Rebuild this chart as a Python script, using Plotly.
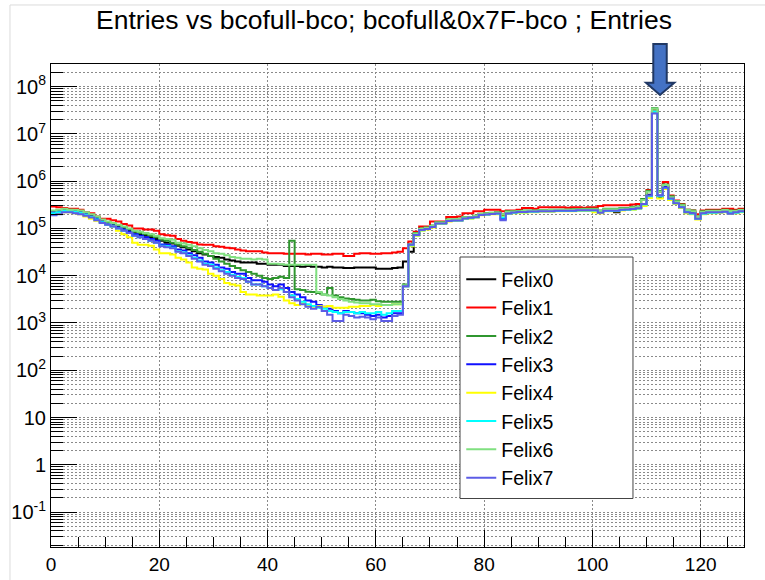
import plotly.graph_objects as go

# ---------------- data ----------------
bin_edges = list(range(129))  # bcofull&0x7F-bco bins, 0..128, width 1

series_names = ["Felix0", "Felix1", "Felix2", "Felix3", "Felix4", "Felix5", "Felix6", "Felix7"]
series_colors = ["#000000", "#ff0000", "#2f962f", "#1010ff", "#ffff00", "#00ffff", "#80e080", "#5c5ce6"]

felix0 = [2.0e5, 2.1e5, 2.3e5, 2.3e5, 2.2e5, 2.1e5, 1.9e5, 1.8e5, 1.6e5, 1.4e5,
          1.3e5, 1.2e5, 1.1e5, 1.0e5, 9.0e4, 8.2e4, 7.6e4, 7.0e4, 6.5e4, 6.0e4,
          5.5e4, 5.0e4, 4.8e4, 4.3e4, 4.0e4, 3.6e4, 3.3e4, 3.0e4, 2.8e4, 2.6e4,
          2.5e4, 2.4e4, 2.2e4, 2.1e4, 2.0e4, 1.9e4, 1.9e4, 1.9e4, 1.8e4, 1.8e4,
          1.7e4, 1.7e4, 1.7e4, 1.6e4, 1.6e4, 1.6e4, 1.55e4, 1.6e4, 1.55e4, 1.55e4,
          1.5e4, 1.55e4, 1.5e4, 1.5e4, 1.45e4, 1.45e4, 1.5e4, 1.5e4, 1.5e4, 1.5e4,
          1.4e4, 1.4e4, 1.4e4, 1.45e4, 1.5e4, 2.0e4, 3.2e4, 7.5e4, 9.5e4, 1.0e5,
          1.1e5, 1.3e5, 1.3e5, 1.5e5, 1.5e5, 1.55e5, 1.7e5, 1.7e5, 1.8e5, 2.0e5,
          2.05e5, 2.1e5, 2.1e5, 1.9e5, 2.2e5, 2.25e5, 2.3e5, 2.3e5, 2.3e5, 2.35e5,
          2.4e5, 2.4e5, 2.4e5, 2.4e5, 2.45e5, 2.45e5, 2.45e5, 2.5e5, 2.5e5, 2.5e5,
          2.5e5, 2.3e5, 2.4e5, 2.4e5, 2.2e5, 2.5e5, 2.6e5, 2.6e5, 2.7e5, 3.3e5,
          5.2e5, 3.0e7, 4.6e5, 8.0e5, 4.2e5, 3.5e5, 2.9e5, 2.3e5, 2.2e5, 1.7e5,
          2.2e5, 2.25e5, 2.3e5, 2.3e5, 2.3e5, 2.2e5, 2.3e5, 2.35e5]

felix1 = [2.9e5, 2.8e5, 2.7e5, 2.6e5, 2.6e5, 2.5e5, 2.2e5, 2.1e5, 1.8e5, 1.6e5,
          1.6e5, 1.5e5, 1.4e5, 1.25e5, 1.15e5, 1.0e5, 1.0e5, 9.5e4, 9.5e4, 9.0e4,
          7.5e4, 7.2e4, 7.0e4, 6.0e4, 5.5e4, 5.2e4, 5.0e4, 4.6e4, 4.5e4, 4.5e4,
          4.2e4, 4.1e4, 3.9e4, 3.8e4, 3.6e4, 3.4e4, 3.3e4, 3.3e4, 3.3e4, 3.1e4,
          3.0e4, 3.0e4, 3.0e4, 2.9e4, 2.9e4, 2.9e4, 2.9e4, 2.8e4, 2.9e4, 2.9e4,
          2.8e4, 2.8e4, 2.9e4, 2.9e4, 2.6e4, 2.6e4, 2.9e4, 3.0e4, 3.0e4, 2.9e4,
          2.9e4, 3.0e4, 3.0e4, 3.1e4, 3.2e4, 3.8e4, 5.3e4, 8.5e4, 1.1e5, 1.1e5,
          1.4e5, 1.4e5, 1.4e5, 1.75e5, 1.75e5, 1.8e5, 2.1e5, 2.1e5, 2.3e5, 2.3e5,
          2.5e5, 2.5e5, 2.5e5, 2.3e5, 2.4e5, 2.4e5, 2.5e5, 2.7e5, 2.7e5, 2.6e5,
          2.8e5, 2.8e5, 2.8e5, 2.8e5, 2.8e5, 2.75e5, 2.8e5, 2.8e5, 2.75e5, 2.8e5,
          2.8e5, 3.0e5, 3.1e5, 3.1e5, 3.1e5, 3.1e5, 3.1e5, 3.2e5, 3.3e5, 4.0e5,
          6.5e5, 3.2e7, 6.0e5, 9.6e5, 5.0e5, 3.9e5, 3.3e5, 2.5e5, 2.4e5, 2.0e5,
          2.4e5, 2.5e5, 2.5e5, 2.5e5, 2.6e5, 2.6e5, 2.5e5, 2.6e5]

felix2 = [2.3e5, 2.4e5, 2.5e5, 2.5e5, 2.4e5, 2.3e5, 2.1e5, 1.9e5, 1.7e5, 1.5e5,
          1.35e5, 1.25e5, 1.15e5, 1.05e5, 9.5e4, 8.5e4, 8.0e4, 7.5e4, 7.0e4, 6.5e4,
          5.8e4, 5.5e4, 5.0e4, 4.5e4, 4.2e4, 3.9e4, 3.5e4, 3.2e4, 2.9e4, 2.6e4,
          2.3e4, 2.0e4, 1.8e4, 1.6e4, 1.45e4, 1.3e4, 1.2e4, 1.1e4, 1.0e4, 9.0e3,
          8.5e3, 9.0e3, 9.5e3, 9.0e3, 5.5e4, 5.2e3, 5.0e3, 4.6e3, 4.5e3, 4.3e3,
          4.0e3, 5.5e3, 3.8e3, 3.5e3, 3.3e3, 3.2e3, 3.1e3, 3.0e3, 3.0e3, 3.1e3,
          2.9e3, 2.8e3, 2.8e3, 2.8e3, 2.8e3, 6.5e3, 4.6e4, 8.0e4, 1.0e5, 1.05e5,
          1.15e5, 1.35e5, 1.35e5, 1.55e5, 1.55e5, 1.6e5, 1.75e5, 1.75e5, 1.85e5, 2.05e5,
          2.1e5, 2.15e5, 2.2e5, 2.0e5, 2.3e5, 2.3e5, 2.35e5, 2.4e5, 2.4e5, 2.4e5,
          2.45e5, 2.45e5, 2.5e5, 2.5e5, 2.5e5, 2.5e5, 2.55e5, 2.55e5, 2.6e5, 2.6e5,
          2.6e5, 2.4e5, 2.6e5, 2.6e5, 2.6e5, 2.7e5, 2.7e5, 2.8e5, 2.9e5, 4.2e5,
          6.3e5, 3.5e7, 6.2e5, 8.5e5, 4.8e5, 3.8e5, 3.2e5, 2.5e5, 2.4e5, 1.8e5,
          2.3e5, 2.4e5, 2.4e5, 2.4e5, 2.5e5, 2.4e5, 2.4e5, 2.5e5]

felix3 = [2.2e5, 2.3e5, 2.4e5, 2.4e5, 2.3e5, 2.2e5, 2.0e5, 1.8e5, 1.6e5, 1.4e5,
          1.25e5, 1.15e5, 1.05e5, 9.5e4, 8.5e4, 7.5e4, 7.0e4, 6.5e4, 6.0e4, 5.5e4,
          4.6e4, 4.5e4, 4.2e4, 3.6e4, 3.4e4, 3.0e4, 2.7e4, 2.4e4, 2.0e4, 1.9e4,
          1.7e4, 1.5e4, 1.4e4, 1.2e4, 1.1e4, 1.1e4, 9.0e3, 8.0e3, 8.0e3, 7.5e3,
          6.5e3, 6.0e3, 6.5e3, 5.5e3, 4.5e3, 4.0e3, 3.5e3, 3.0e3, 2.8e3, 2.4e3,
          2.2e3, 2.0e3, 1.8e3, 1.6e3, 1.8e3, 1.7e3, 1.6e3, 1.6e3, 1.5e3, 1.4e3,
          1.5e3, 1.3e3, 1.4e3, 1.6e3, 1.6e3, 6.0e3, 4.5e4, 7.5e4, 9.5e4, 1.0e5,
          1.1e5, 1.3e5, 1.3e5, 1.45e5, 1.5e5, 1.5e5, 1.65e5, 1.7e5, 1.75e5, 1.95e5,
          2.0e5, 2.05e5, 2.1e5, 1.6e5, 2.1e5, 2.2e5, 2.25e5, 2.25e5, 2.3e5, 2.3e5,
          2.35e5, 2.35e5, 2.35e5, 2.4e5, 2.4e5, 2.4e5, 2.4e5, 2.45e5, 2.45e5, 2.45e5,
          2.45e5, 2.2e5, 2.4e5, 2.4e5, 2.4e5, 2.5e5, 2.55e5, 2.6e5, 2.7e5, 3.3e5,
          5.0e5, 3.0e7, 5.0e5, 7.5e5, 4.3e5, 3.4e5, 2.8e5, 2.2e5, 2.1e5, 1.6e5,
          2.1e5, 2.2e5, 2.2e5, 2.2e5, 2.25e5, 2.1e5, 2.2e5, 2.3e5]

felix4 = [2.0e5, 2.1e5, 2.2e5, 2.2e5, 2.1e5, 2.0e5, 1.8e5, 1.6e5, 1.45e5, 1.3e5,
          1.2e5, 1.1e5, 9.0e4, 7.5e4, 6.5e4, 5.0e4, 4.5e4, 4.5e4, 4.3e4, 3.6e4,
          3.0e4, 3.0e4, 2.8e4, 2.4e4, 2.2e4, 1.9e4, 1.5e4, 1.4e4, 1.35e4, 1.1e4,
          1.0e4, 8.5e3, 7.0e3, 6.5e3, 6.2e3, 4.5e3, 4.0e3, 4.0e3, 3.8e3, 3.8e3,
          3.8e3, 4.0e3, 3.6e3, 3.0e3, 2.6e3, 2.4e3, 2.6e3, 2.3e3, 2.2e3, 2.3e3,
          2.2e3, 2.3e3, 2.1e3, 2.1e3, 2.1e3, 2.2e3, 2.2e3, 2.3e3, 2.3e3, 2.4e3,
          2.3e3, 2.4e3, 2.4e3, 2.5e3, 2.5e3, 6.0e3, 4.2e4, 7.0e4, 9.0e4, 9.5e4,
          1.05e5, 1.25e5, 1.25e5, 1.4e5, 1.45e5, 1.45e5, 1.6e5, 1.6e5, 1.7e5, 1.9e5,
          1.95e5, 2.0e5, 2.0e5, 1.8e5, 2.05e5, 2.1e5, 2.15e5, 2.15e5, 2.2e5, 2.2e5,
          2.25e5, 2.25e5, 2.25e5, 2.3e5, 2.3e5, 2.3e5, 2.3e5, 2.35e5, 2.35e5, 2.35e5,
          2.2e5, 2.1e5, 2.3e5, 2.3e5, 2.3e5, 2.4e5, 2.45e5, 2.5e5, 2.6e5, 3.0e5,
          4.4e5, 3.0e7, 4.3e5, 6.8e5, 4.0e5, 3.3e5, 2.7e5, 2.1e5, 2.0e5, 1.55e5,
          2.0e5, 2.1e5, 2.1e5, 2.15e5, 2.2e5, 2.05e5, 2.1e5, 2.2e5]

felix5 = [2.1e5, 2.2e5, 2.35e5, 2.35e5, 2.25e5, 2.15e5, 1.95e5, 1.75e5, 1.55e5, 1.35e5,
          1.2e5, 1.1e5, 1.0e5, 9.0e4, 8.0e4, 7.0e4, 6.5e4, 6.0e4, 5.5e4, 5.0e4,
          4.3e4, 4.2e4, 3.9e4, 3.3e4, 3.1e4, 2.7e4, 2.4e4, 2.1e4, 1.8e4, 1.7e4,
          1.5e4, 1.3e4, 1.2e4, 1.05e4, 9.5e3, 9.0e3, 7.5e3, 6.5e3, 6.5e3, 6.0e3,
          5.5e3, 5.0e3, 5.2e3, 4.5e3, 3.8e3, 3.2e3, 2.8e3, 2.5e3, 2.3e3, 2.1e3,
          2.0e3, 1.8e3, 1.7e3, 1.6e3, 1.7e3, 1.7e3, 1.6e3, 1.7e3, 1.6e3, 1.6e3,
          1.7e3, 1.5e3, 1.6e3, 1.8e3, 1.8e3, 6.0e3, 4.4e4, 7.2e4, 9.2e4, 9.8e4,
          1.08e5, 1.28e5, 1.28e5, 1.43e5, 1.48e5, 1.48e5, 1.63e5, 1.65e5, 1.72e5, 1.92e5,
          1.98e5, 2.02e5, 2.05e5, 1.7e5, 2.08e5, 2.15e5, 2.2e5, 2.2e5, 2.25e5, 2.25e5,
          2.3e5, 2.3e5, 2.3e5, 2.35e5, 2.35e5, 2.35e5, 2.35e5, 2.4e5, 2.4e5, 2.4e5,
          2.4e5, 2.2e5, 2.35e5, 2.35e5, 2.35e5, 2.45e5, 2.5e5, 2.55e5, 2.65e5, 3.2e5,
          4.8e5, 3.0e7, 4.8e5, 7.2e5, 4.2e5, 3.4e5, 2.8e5, 2.2e5, 2.05e5, 1.6e5,
          2.05e5, 2.15e5, 2.15e5, 2.2e5, 2.25e5, 2.1e5, 2.15e5, 2.25e5]

felix6 = [2.4e5, 2.5e5, 2.6e5, 2.5e5, 2.5e5, 2.4e5, 2.2e5, 2.0e5, 1.8e5, 1.55e5,
          1.4e5, 1.3e5, 1.2e5, 1.1e5, 1.0e5, 9.0e4, 8.5e4, 8.0e4, 7.5e4, 7.0e4,
          6.2e4, 6.0e4, 5.8e4, 5.0e4, 4.8e4, 4.5e4, 4.2e4, 3.8e4, 3.5e4, 3.3e4,
          3.0e4, 2.9e4, 2.7e4, 2.5e4, 2.4e4, 2.3e4, 2.3e4, 2.2e4, 2.3e4, 2.2e4,
          1.8e4, 1.8e4, 1.75e4, 1.7e4, 1.7e4, 1.7e4, 1.7e4, 1.7e4, 1.7e4, 4.5e3,
          4.0e3, 3.8e3, 3.5e3, 3.2e3, 3.0e3, 2.8e3, 2.7e3, 2.6e3, 2.6e3, 2.5e3,
          2.5e3, 2.4e3, 2.4e3, 2.5e3, 2.5e3, 6.3e3, 4.6e4, 7.8e4, 9.8e4, 1.03e5,
          1.13e5, 1.33e5, 1.33e5, 1.53e5, 1.55e5, 1.58e5, 1.73e5, 1.73e5, 1.83e5, 2.03e5,
          2.08e5, 2.12e5, 2.15e5, 2.0e5, 2.25e5, 2.28e5, 2.32e5, 2.35e5, 2.35e5, 2.38e5,
          2.42e5, 2.42e5, 2.45e5, 2.45e5, 2.48e5, 2.48e5, 2.5e5, 2.52e5, 2.55e5, 2.55e5,
          2.55e5, 2.35e5, 2.55e5, 2.55e5, 2.55e5, 2.65e5, 2.65e5, 2.75e5, 2.85e5, 4.0e5,
          6.0e5, 3.4e7, 6.0e5, 8.3e5, 4.6e5, 3.7e5, 3.1e5, 2.45e5, 2.3e5, 1.75e5,
          2.25e5, 2.35e5, 2.35e5, 2.35e5, 2.45e5, 2.35e5, 2.35e5, 2.45e5]

felix7 = [1.9e5, 2.0e5, 2.2e5, 2.2e5, 2.1e5, 2.0e5, 1.85e5, 1.7e5, 1.5e5, 1.3e5,
          1.2e5, 1.1e5, 1.0e5, 9.0e4, 8.0e4, 7.0e4, 6.5e4, 6.0e4, 5.5e4, 5.0e4,
          4.2e4, 4.0e4, 3.8e4, 3.2e4, 3.0e4, 2.6e4, 2.3e4, 2.0e4, 1.7e4, 1.6e4,
          1.4e4, 1.25e4, 1.1e4, 1.0e4, 9.0e3, 8.5e3, 7.5e3, 6.5e3, 6.5e3, 6.0e3,
          5.5e3, 5.0e3, 5.5e3, 4.5e3, 3.5e3, 3.0e3, 2.5e3, 2.2e3, 2.0e3, 2.2e3,
          1.8e3, 1.5e3, 1.1e3, 1.1e3, 1.5e3, 1.4e3, 1.3e3, 1.35e3, 1.3e3, 1.2e3,
          1.3e3, 1.1e3, 1.1e3, 1.4e3, 1.5e3, 6.0e3, 4.5e4, 7.3e4, 9.3e4, 9.8e4,
          1.08e5, 1.28e5, 1.28e5, 1.43e5, 1.48e5, 1.48e5, 1.63e5, 1.68e5, 1.73e5, 1.93e5,
          1.98e5, 2.03e5, 2.08e5, 1.5e5, 2.08e5, 2.18e5, 2.22e5, 2.22e5, 2.28e5, 2.28e5,
          2.32e5, 2.32e5, 2.32e5, 2.38e5, 2.38e5, 2.38e5, 2.38e5, 2.42e5, 2.42e5, 2.42e5,
          2.42e5, 2.15e5, 2.38e5, 2.38e5, 2.38e5, 2.48e5, 2.52e5, 2.58e5, 2.68e5, 3.3e5,
          5.0e5, 2.7e7, 5.0e5, 7.3e5, 4.3e5, 3.4e5, 2.8e5, 2.2e5, 2.1e5, 1.6e5,
          2.1e5, 2.2e5, 2.2e5, 2.2e5, 2.25e5, 2.05e5, 2.2e5, 2.3e5]

series_values = [felix0, felix1, felix2, felix3, felix4, felix5, felix6, felix7]

x_major_ticks = [0, 20, 40, 60, 80, 100, 120]
y_decades = [1e-1, 1, 10, 1e2, 1e3, 1e4, 1e5, 1e6, 1e7, 1e8]
y_tick_labels = ["10<sup>-1</sup>", "1", "10", "10<sup>2</sup>", "10<sup>3</sup>", "10<sup>4</sup>",
                 "10<sup>5</sup>", "10<sup>6</sup>", "10<sup>7</sup>", "10<sup>8</sup>"]
y_minor_ticks = [m * d for d in [1e-2] + y_decades for m in range(2, 10)]

title_text = "Entries vs bcofull-bco; bcofull&0x7F-bco ; Entries"

# ---------------- figure ----------------
FONT = "Liberation Sans, Arial, Helvetica, sans-serif"
fig = go.Figure()

for name, color, vals in zip(series_names, series_colors, series_values):
    fig.add_trace(go.Scatter(
        x=bin_edges, y=vals + [vals[-1]],
        mode="lines", line=dict(color=color, width=2, shape="hv"),
        name=name, legendgroup=name,
    ))

grid_dash = "2px,2px"
fig.update_xaxes(
    range=[0, 128], tickvals=x_major_ticks,
    ticks="inside", ticklen=17, tickwidth=1, tickcolor="#000",
    showline=True, linecolor="#000", linewidth=1, mirror=True,
    showgrid=True, gridcolor="#8a8a8a", griddash=grid_dash, gridwidth=1,
    zeroline=False, automargin=False,
    tickfont=dict(family=FONT, size=19, color="#000"),
    minor=dict(dtick=5, ticks="inside", ticklen=10, tickcolor="#000", showgrid=False),
)
fig.update_yaxes(
    type="log", range=[-1.74, 8.48],
    tickvals=y_decades, ticktext=y_tick_labels,
    ticks="inside", ticklen=26, tickwidth=1, tickcolor="#000",
    showline=True, linecolor="#000", linewidth=1, mirror=True,
    showgrid=True, gridcolor="#8a8a8a", griddash=grid_dash, gridwidth=1,
    zeroline=False, automargin=False,
    tickfont=dict(family=FONT, size=20, color="#000"),
    minor=dict(tickvals=y_minor_ticks, ticks="inside", ticklen=12, tickcolor="#000",
               showgrid=True, gridcolor="#8a8a8a", griddash=grid_dash, gridwidth=1),
)

# block arrow pointing at the peak (paper coordinates)
arrow_path = ("M 0.8691,1.0414 L 0.8885,1.0414 L 0.8885,0.9613 L 0.8994,0.9613 "
              "L 0.8788,0.9358 L 0.8586,0.9613 L 0.8691,0.9613 Z")

fig.update_layout(
    width=765, height=580,
    margin=dict(l=51, r=21, t=64, b=33),
    paper_bgcolor="white", plot_bgcolor="white",
    title=dict(text=title_text, x=384 / 765, xref="container", xanchor="center",
               y=1 - 20 / 580, yref="container", yanchor="middle",
               font=dict(family=FONT, size=26.5, color="#000")),
    legend=dict(x=0.592, y=0.594, xanchor="left", yanchor="top",
                bgcolor="rgba(0,0,0,0)", borderwidth=0,
                font=dict(family=FONT, size=19.5, color="#000"),
                tracegroupgap=0, itemwidth=30),
    showlegend=True,
    shapes=[
        # legend box (ROOT TLegend frame)
        dict(type="rect", xref="paper", yref="paper", x0=0.5902, x1=0.8398, y0=0.1004, y1=0.6004,
             fillcolor="white", line=dict(color="#444", width=1), layer="above"),
        dict(type="path", path=arrow_path, xref="paper", yref="paper",
             fillcolor="#4472c4", line=dict(color="#203864", width=2), layer="above"),
        dict(type="line", xref="paper", yref="paper", x0=-0.0592, x1=1.04, y0=1.1222, y1=1.1222,
             line=dict(color="#dcdcdc", width=1)),
        dict(type="line", xref="paper", yref="paper", x0=-0.0592, x1=-0.0592, y0=1.1222, y1=-0.08,
             line=dict(color="#dcdcdc", width=1)),
    ],
)

fig.write_html("out.html")
